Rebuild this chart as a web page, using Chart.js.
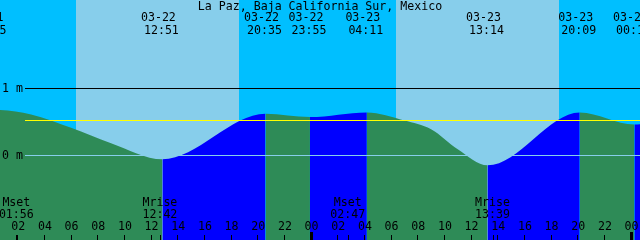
<!DOCTYPE html>
<html>
<head>
<meta charset="utf-8">
<title>La Paz Tides</title>
<script src="https://cdn.jsdelivr.net/npm/chart.js@4.4.1/dist/chart.umd.min.js"></script>
<style>
    body { margin: 0; background: #00BFFF; }
    canvas { display: block; }
</style>
</head>
<body>
<canvas id="tideChart" width="640" height="240"></canvas>
<script>
// ==========================
// La Paz tide graph
// ==========================

const stationName = "La Paz, Baja California Sur, Mexico";

// tide readings (first and last lie outside the window)
const tideTimes = [
    "03-21 20:40", "03-21 23:55", "03-22 03:00", "03-22 06:00", "03-22 09:00",
    "03-22 12:51", "03-22 20:35", "03-22 23:55", "03-23 04:11", "03-23 07:00",
    "03-23 09:00", "03-23 11:00", "03-23 13:14", "03-23 20:09", "03-24 00:15",
    "03-24 04:40"
];
const tideHeights = [
    0.50, 0.68, 0.61, 0.41, 0.18,
    -0.06, 0.62, 0.57, 0.64, 0.52,
    0.39, 0.09, -0.15, 0.64, 0.46,
    0.62
];

// high / low labels along the top
const extremeDates = ["03-21", "03-22", "03-22", "03-22", "03-23", "03-23", "03-23", "03-24"];
const extremeTimes = ["23:55", "12:51", "20:35", "23:55", "04:11", "13:14", "20:09", "00:15"];

// sun and moon
const sunriseTimes = ["03-22 06:20", "03-23 06:20"];
const sunsetTimes = ["03-22 18:34", "03-23 18:34"];
const moonNames = ["Mset", "Mrise", "Mset", "Mrise"];
const moonTimes = ["03-22 01:56", "03-22 12:42", "03-23 02:47", "03-23 13:39"];

// axis
const hourLabels = [
    "02", "04", "06", "08", "10", "12", "14", "16", "18", "20", "22", "00",
    "02", "04", "06", "08", "10", "12", "14", "16", "18", "20", "22", "00"
];
const levelValues = [1, 0];
const levelLabels = ["1 m", "0 m"];
const meanLevel = 0.52;

const FONT = "11.6px 'DejaVu Sans Mono', monospace";

// hours since 03-22 00:00
function toHours(s) {

    const [d, t] = s.split(" ");

    const day = Number(d.split("-")[1]);

    const [h, m] = t.split(":").map(Number);

    return (day - 22) * 24 + h + m / 60;

}

// ---------------- Background / overlay ----------------

const tidePlugin = {

    id: "tideDecor",

    beforeDatasetsDraw(chart) {

        const { ctx, chartArea: a, scales: { x } } = chart;

        ctx.save();
        ctx.fillStyle = "#00BFFF";
        ctx.fillRect(a.left, a.top, a.right - a.left, a.bottom - a.top);

        ctx.fillStyle = "#87CEEB";
        sunriseTimes.forEach((rise, i) => {
            const x0 = Math.round(x.getPixelForValue(toHours(rise)));
            const x1 = Math.round(x.getPixelForValue(toHours(sunsetTimes[i])));
            ctx.fillRect(x0, a.top, x1 - x0, a.bottom - a.top);
        });
        ctx.restore();

    },

    afterDatasetsDraw(chart) {

        const { ctx, chartArea: a, scales: { x, y } } = chart;

        ctx.save();

        // level lines
        const lineStart = 25;
        const yOne = Math.floor(y.getPixelForValue(levelValues[0]));
        const yZero = Math.floor(y.getPixelForValue(levelValues[1]));
        const yMean = Math.floor(y.getPixelForValue(meanLevel));

        ctx.fillStyle = "#000000";
        ctx.fillRect(lineStart, yOne, a.right - lineStart, 1);
        ctx.fillStyle = "#FFFF00";
        ctx.fillRect(lineStart, yMean, a.right - lineStart, 1);
        ctx.fillStyle = "#87CEEB";
        ctx.fillRect(lineStart, yZero, a.right - lineStart, 1);

        ctx.font = FONT;
        ctx.fillStyle = "#000000";
        ctx.textBaseline = "alphabetic";

        ctx.textAlign = "left";
        ctx.fillText(levelLabels[0], 2, yOne + 4);
        ctx.fillText(levelLabels[1], 2, yZero + 4);

        // title
        ctx.textAlign = "center";
        ctx.fillText(stationName, 320, 10);

        // high / low labels
        extremeTimes.forEach((t, i) => {
            const px = x.getPixelForValue(toHours(extremeDates[i] + " " + t));
            ctx.fillText(extremeDates[i], px - 4, 21);
            ctx.fillText(t, px - 1, 34);
        });

        // moon labels
        moonTimes.forEach((t, i) => {
            const px = x.getPixelForValue(toHours(t));
            ctx.fillText(moonNames[i], px - 0.5, 206);
            ctx.fillText(t.split(" ")[1], px - 0.5, 218);
            ctx.fillRect(Math.floor(px), 235, 1, 5);
        });

        // hour ticks
        hourLabels.forEach((label, i) => {
            const hour = 2 + i * 2;
            const px = x.getPixelForValue(hour);
            ctx.fillText(label, px + 0.5, 230);
            if (label === "00") {
                ctx.fillRect(Math.round(px) - 1, 232, 3, 8);
            } else {
                ctx.fillRect(Math.floor(px), 235, 1, 5);
            }
        });

        ctx.restore();

    }

};

// ---------------- Chart ----------------

const points = tideTimes.map((t, i) => ({ x: toHours(t), y: tideHeights[i] }));

const ctx = document.getElementById("tideChart").getContext("2d");

const tideChart = new Chart(ctx, {

    type: "line",

    data: {

        datasets: [

            {

                data: points,

                fill: "start",

                borderWidth: 0,

                borderColor: "rgba(0,0,0,0)",

                backgroundColor: "#2E8B57",

                pointRadius: 0,

                cubicInterpolationMode: "monotone",

                segment: {

                    backgroundColor: c => c.p1.parsed.y > c.p0.parsed.y ? "#0000FF" : "#2E8B57"

                }

            }

        ]

    },

    options: {

        responsive: false,

        devicePixelRatio: 1,

        animation: false,

        events: [],

        layout: { padding: 0 },

        elements: {

            line: { capBezierPoints: false }

        },

        plugins: {

            legend: { display: false },

            tooltip: { enabled: false }

        },

        scales: {

            x: { type: "linear", min: 0.67, max: 48.67, display: false },

            y: { type: "linear", min: -1.264, max: 2.318, display: false }

        }

    },

    plugins: [tidePlugin]

});
</script>
</body>
</html>
